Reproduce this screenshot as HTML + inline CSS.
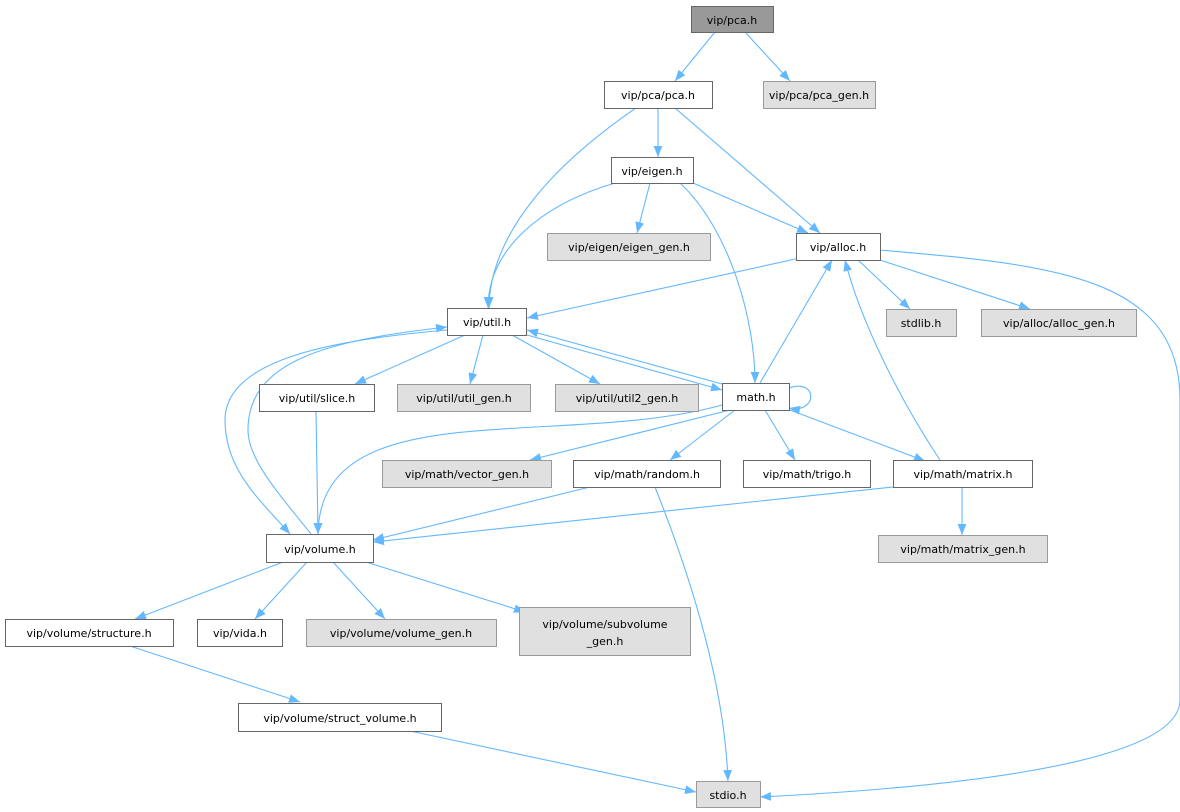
<!DOCTYPE html>
<html><head><meta charset="utf-8"><style>
html,body{margin:0;padding:0;background:#fff;}
svg{display:block;}
text{font-family:"DejaVu Sans","Liberation Sans",sans-serif;font-size:11px;fill:#000;}
</style></head><body>
<svg width="1180" height="812" viewBox="0 0 1180 812" xmlns="http://www.w3.org/2000/svg">
<defs><marker id="a" viewBox="0 0 10 10" refX="10" refY="5" markerWidth="11" markerHeight="11" markerUnits="userSpaceOnUse" orient="auto"><path d="M0,1 L10,5 L0,9 z" fill="#63b8ff"/></marker></defs>
<g fill="none" stroke="#63b8ff" stroke-width="1.1" marker-end="url(#a)">
<path d="M715,32 L675,81"/>
<path d="M745,32 L790,81"/>
<path d="M658,108 L658,157"/>
<path d="M675,108 L820,233"/>
<path d="M636,108 C560,160 490,230 489,308"/>
<path d="M650,183 L637,233"/>
<path d="M693,183 L808,233"/>
<path d="M615,183 C540,205 488,250 488,308"/>
<path d="M680,183 C730,230 755,320 755,383"/>
<path d="M800,258 L527,318"/>
<path d="M858,260 L910,309"/>
<path d="M880,260 L1030,309"/>
<path d="M880,250 C1050,265 1180,275 1180,400 L1180,700 C1180,770 900,790 760,797"/>
<path d="M465,335 L355,384"/>
<path d="M483,335 L470,384"/>
<path d="M512,335 L600,384"/>
<path d="M520,333 L722,390"/>
<path d="M722,384 L527,330"/>
<path d="M789,388 C818,378 818,414 789,408"/>
<path d="M760,383 L832,260"/>
<path d="M940,460 C900,400 860,320 845,260"/>
<path d="M447,330 C330,340 225,360 225,420 C225,470 260,500 290,534"/>
<path d="M311,534 C280,495 248,460 248,430 C248,360 330,340 447,327"/>
<path d="M316,411 L318,534"/>
<path d="M722,405 C560,450 320,390 318,534"/>
<path d="M730,410 L530,460"/>
<path d="M735,410 L670,460"/>
<path d="M765,410 L795,460"/>
<path d="M790,410 L925,461"/>
<path d="M590,487 L373,540"/>
<path d="M655,487 C700,600 725,700 728,781"/>
<path d="M893,487 L373,542"/>
<path d="M962,487 L962,535"/>
<path d="M283,562 L135,619"/>
<path d="M307,562 L255,619"/>
<path d="M333,562 L385,619"/>
<path d="M366,562 L525,612"/>
<path d="M130,646 L300,702"/>
<path d="M410,731 L696,792"/>
</g>
<g stroke-width="1">
<rect x="691.5" y="6.5" width="82" height="26" fill="#999" stroke="#666"/>
<rect x="604.5" y="81.5" width="108" height="27" fill="#fff" stroke="#666"/>
<rect x="763.5" y="81.5" width="112" height="27" fill="#e0e0e0" stroke="#999"/>
<rect x="611.5" y="157.5" width="82" height="26" fill="#fff" stroke="#666"/>
<rect x="547.5" y="233.5" width="163" height="27" fill="#e0e0e0" stroke="#999"/>
<rect x="796.5" y="233.5" width="84" height="27" fill="#fff" stroke="#666"/>
<rect x="447.5" y="308.5" width="79" height="27" fill="#fff" stroke="#666"/>
<rect x="886.5" y="309.5" width="70" height="27" fill="#e0e0e0" stroke="#999"/>
<rect x="981.5" y="309.5" width="155" height="27" fill="#e0e0e0" stroke="#999"/>
<rect x="259.5" y="384.5" width="115" height="27" fill="#fff" stroke="#666"/>
<rect x="397.5" y="384.5" width="133" height="27" fill="#e0e0e0" stroke="#999"/>
<rect x="555.5" y="384.5" width="143" height="27" fill="#e0e0e0" stroke="#999"/>
<rect x="722.5" y="383.5" width="67" height="27" fill="#fff" stroke="#666"/>
<rect x="382.5" y="460.5" width="169" height="27" fill="#e0e0e0" stroke="#999"/>
<rect x="573.5" y="460.5" width="147" height="27" fill="#fff" stroke="#666"/>
<rect x="743.5" y="460.5" width="127" height="27" fill="#fff" stroke="#666"/>
<rect x="893.5" y="460.5" width="139" height="27" fill="#fff" stroke="#666"/>
<rect x="266.5" y="534.5" width="107" height="28" fill="#fff" stroke="#666"/>
<rect x="878.5" y="535.5" width="169" height="27" fill="#e0e0e0" stroke="#999"/>
<rect x="5.5" y="619.5" width="168" height="27" fill="#fff" stroke="#666"/>
<rect x="197.5" y="619.5" width="85" height="27" fill="#fff" stroke="#666"/>
<rect x="306.5" y="619.5" width="190" height="27" fill="#e0e0e0" stroke="#999"/>
<rect x="519.5" y="607.5" width="171" height="48" fill="#e0e0e0" stroke="#999"/>
<rect x="238.5" y="703.5" width="203" height="28" fill="#fff" stroke="#666"/>
<rect x="696.5" y="781.5" width="64" height="26" fill="#e0e0e0" stroke="#999"/>
</g>
<g text-anchor="middle">
<text x="732" y="24">vip/pca.h</text>
<text x="658" y="99">vip/pca/pca.h</text>
<text x="819" y="99">vip/pca/pca_gen.h</text>
<text x="652" y="175">vip/eigen.h</text>
<text x="629" y="251">vip/eigen/eigen_gen.h</text>
<text x="838" y="251">vip/alloc.h</text>
<text x="487" y="326">vip/util.h</text>
<text x="921" y="327">stdlib.h</text>
<text x="1059" y="327">vip/alloc/alloc_gen.h</text>
<text x="317" y="402">vip/util/slice.h</text>
<text x="464" y="402">vip/util/util_gen.h</text>
<text x="627" y="402">vip/util/util2_gen.h</text>
<text x="756" y="401">math.h</text>
<text x="467" y="478">vip/math/vector_gen.h</text>
<text x="647" y="478">vip/math/random.h</text>
<text x="807" y="478">vip/math/trigo.h</text>
<text x="963" y="478">vip/math/matrix.h</text>
<text x="320" y="553">vip/volume.h</text>
<text x="963" y="553">vip/math/matrix_gen.h</text>
<text x="89" y="637">vip/volume/structure.h</text>
<text x="240" y="637">vip/vida.h</text>
<text x="401" y="637">vip/volume/volume_gen.h</text>
<text x="605" y="628">vip/volume/subvolume</text>
<text x="605" y="645">_gen.h</text>
<text x="340" y="722">vip/volume/struct_volume.h</text>
<text x="728" y="799">stdio.h</text>
</g>
</svg>
</body></html>
